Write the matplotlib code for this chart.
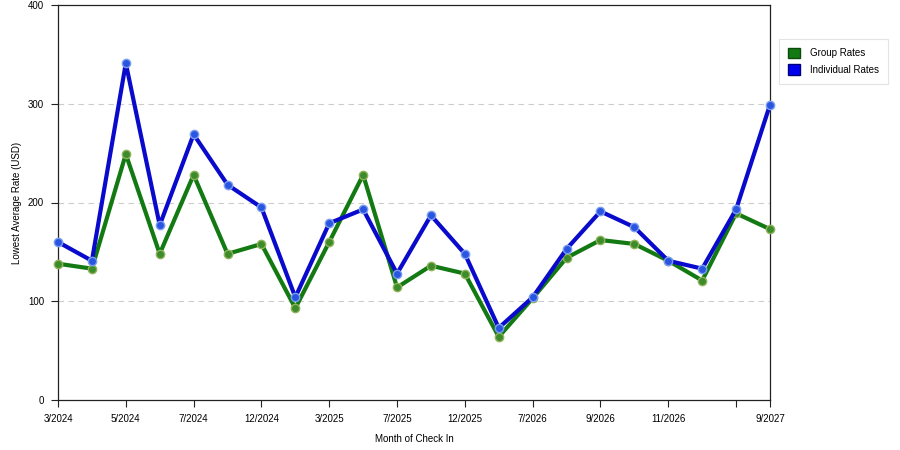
import matplotlib
matplotlib.use("Agg")
import matplotlib.pyplot as plt
from matplotlib.patches import Patch

months = ["3/2024", "4/2024", "5/2024", "6/2024", "7/2024", "9/2024", "12/2024", "1/2025",
          "3/2025", "5/2025", "7/2025", "9/2025", "12/2025", "3/2026", "7/2026", "8/2026",
          "9/2026", "10/2026", "11/2026", "1/2027", "6/2027", "9/2027"]
group_rates = [138, 133, 249, 148, 228, 148, 158, 93, 160, 228, 114, 136, 128, 64,
               103, 144, 162, 158, 141, 121, 189, 173]
individual_rates = [160, 141, 341, 177, 269, 218, 195, 104, 179, 193, 128, 187, 148, 73,
                    104, 153, 191, 175, 141, 133, 193, 299]
tick_idx = [0, 2, 4, 6, 8, 10, 12, 14, 16, 18, 20, 21]
tick_labels = ["3/2024", "5/2024", "7/2024", "12/2024", "3/2025", "7/2025", "12/2025",
               "7/2026", "9/2026", "11/2026", "", "9/2027"]
y_ticks = [0, 100, 200, 300, 400]

plt.rcParams['font.family'] = ['Liberation Sans', 'DejaVu Sans']

fig = plt.figure(figsize=(9, 4.5), dpi=100)
ax = fig.add_axes([58/900, 50/450, (770-58)/900, (400-5)/450])

x = list(range(len(months)))
ax.plot(x, group_rates, color='#137a13', lw=3, zorder=3, clip_on=False,
        marker='o', ms=6, mfc='#3c8c2c', mec='#8fb25a', mew=1)
ax.plot(x, individual_rates, color='#0a0acc', lw=3, zorder=4, clip_on=False,
        marker='o', ms=6, mfc='#2a55e0', mec='#7a9ef0', mew=1)

ax.set_xlim(0, len(months) - 1)
ax.set_ylim(0, 400)
ax.set_xticks(tick_idx)
ax.set_xticklabels(tick_labels)
ax.set_yticks(y_ticks)
ax.tick_params(axis='both', labelsize=7, length=5, width=0.8, color='#222222', direction='out', pad=5)
for yv in y_ticks[1:-1]:
    ax.axhline(yv, color='#cccccc', lw=0.8, ls=(0, (5, 4)), zorder=1)
for s in ax.spines.values():
    s.set_color('#222222')
    s.set_linewidth(0.9)

ax.set_xlabel("Month of Check In", fontsize=7, labelpad=7)
ax.set_ylabel("Lowest Average Rate (USD)", fontsize=7, labelpad=4)

handles = [Patch(facecolor='#137a13', edgecolor='#0b4a0b', label='Group Rates'),
           Patch(facecolor='#0000ee', edgecolor='#00007a', label='Individual Rates')]
leg = fig.legend(handles=handles, loc='upper left', bbox_to_anchor=(779/900, 1 - 39/450),
                 fontsize=7, frameon=True, fancybox=False, borderaxespad=0,
                 handlelength=1.3, handleheight=1.3, handletextpad=1.0,
                 borderpad=0.9, labelspacing=0.6)
leg.get_frame().set_edgecolor('#dddddd')
leg.get_frame().set_linewidth(0.8)

fig.savefig("out.png", dpi=100)
